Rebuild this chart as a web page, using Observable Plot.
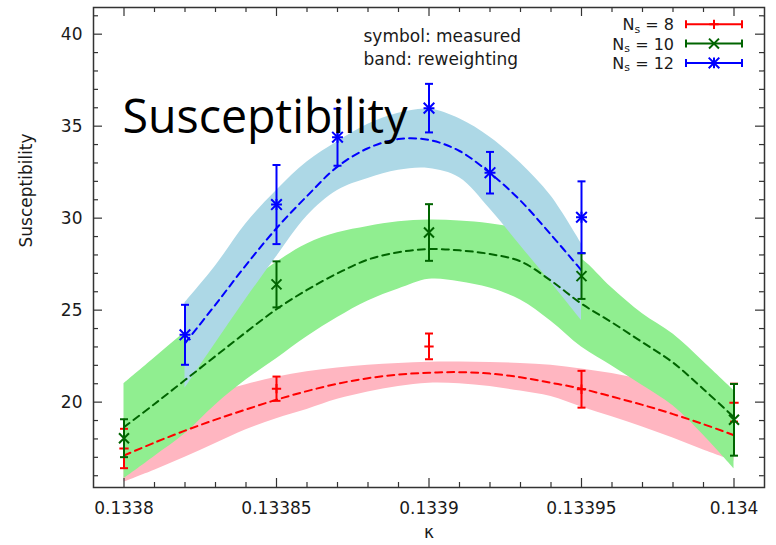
<!DOCTYPE html>
<html><head><meta charset="utf-8">
<script src="https://cdn.jsdelivr.net/npm/d3@7"></script>
<script src="https://cdn.jsdelivr.net/npm/@observablehq/plot@0.6"></script>
<style>body{margin:0;background:#fff}#chart svg{display:block}</style>
</head><body><div id="chart"></div>
<script>
// ---- data ----
const bandK = [0.1338,0.13381,0.13382,0.13383,0.13384,0.13385,0.13386,0.13387,0.13388,0.13389,0.1339,0.13391,0.13392,0.13393,0.13394,0.13395,0.13396,0.13397,0.13398,0.13399,0.134];
const redMid = [17.1,17.8,18.45,19.05,19.6,20.13,20.6,21.0,21.3,21.5,21.6,21.63,21.55,21.35,21.05,20.73,20.3,19.85,19.35,18.8,18.2];
const redHi  = [18.55,19.3,19.95,20.5,20.95,21.35,21.65,21.85,22.0,22.1,22.17,22.18,22.15,22.1,22.0,21.8,21.55,21.2,20.8,20.3,19.7];
const redLo  = [15.65,16.3,17.0,17.75,18.5,19.1,19.6,20.15,20.55,20.85,21.03,21.0,20.85,20.6,20.3,19.73,19.2,18.65,18.05,17.4,16.8];
const greenMid = [18.64,19.9,21.2,22.5,23.8,25.05,26.1,27.0,27.75,28.15,28.32,28.25,28.05,27.65,26.6,25.35,24.33,23.25,22.15,20.7,19.18];
const greenHi  = [21.0,22.4,23.8,25.1,26.4,27.6,28.6,29.2,29.55,29.8,29.9,29.85,29.7,29.4,28.7,27.8,26.2,24.8,23.7,22.2,20.63];
const greenLo  = [15.84,17.05,18.28,19.85,21.2,22.36,23.55,24.6,25.5,26.15,26.68,26.55,26.2,25.55,24.4,23.0,21.97,20.9,19.8,18.2,16.38];
const blueK   = [0.13382,0.13383,0.13384,0.13385,0.13386,0.13387,0.13388,0.13389,0.1339,0.13391,0.13392,0.13393,0.13394,0.13395];
const blueMid = [23.2,25.3,27.45,29.45,31.2,32.8,33.8,34.3,34.25,33.65,32.45,30.95,29.1,27.16];
const blueHi  = [25.4,27.4,29.7,31.5,33.05,34.15,35.1,35.7,35.93,35.4,34.4,33.0,31.2,28.6];
const blueLo  = [20.75,23.2,25.6,27.9,30.1,31.5,32.15,32.6,32.7,32.2,30.5,28.5,26.5,24.44];

const measK = [0.1338,0.13385,0.1339,0.13395,0.134];
const red8 = [17.48,20.73,23.03,20.70,19.97];
const red8Err = [1.07,0.66,0.70,1.00,1.03];
const green10 = [18.04,26.40,29.22,26.85,19.04];
const green10Err = [1.03,1.25,1.54,1.24,1.95];
const blueMeasK = [0.13382,0.13385,0.13387,0.1339,0.13392,0.13395];
const blue12 = [23.66,30.74,34.40,35.98,32.47,30.05];
const blue12Err = [1.63,2.15,1.55,1.32,1.13,1.95];

const xMajor = [0.1338,0.13385,0.1339,0.13395,0.134];
const xMinor = [0.13381,0.13382,0.13383,0.13384,0.13386,0.13387,0.13388,0.13389,0.13391,0.13392,0.13393,0.13394,0.13396,0.13397,0.13398,0.13399];
const yMajor = [20,25,30,35,40];
const yMinor = [16,17,18,19,21,22,23,24,26,27,28,29,31,32,33,34,36,37,38,39,41];
const legendN = ["8","10","12"];

// ---- build tables ----
const band = (K, mid, hi, lo) => K.map((k,i)=>({k, mid: mid[i], hi: hi[i], lo: lo[i]}));
const meas = (K, v, e) => K.map((k,i)=>({k, v: v[i], hi: v[i]+e[i], lo: v[i]-e[i]}));
const bRed = band(bandK, redMid, redHi, redLo);
const bGreen = band(bandK, greenMid, greenHi, greenLo);
const bBlue = band(blueK, blueMid, blueHi, blueLo);
const mRed = meas(measK, red8, red8Err);
const mGreen = meas(measK, green10, green10Err);
const mBlue = meas(blueMeasK, blue12, blue12Err);

const RED = "#ff0000", GREEN = "#006400", BLUE = "#0000ff";
const cap = {draw(ctx){ ctx.moveTo(-4,0); ctx.lineTo(4,0); }};
const W = 776, H = 545, ML = 93, MR = 12, MT = 7, MB = 58;
const FW = W-ML-MR, FH = H-MT-MB;
const axisC = "#333";

function errMarks(data, color, syms) {
  const out = [
    Plot.ruleX(data, {x:"k", y1:"lo", y2:"hi", stroke: color, strokeWidth: 2}),
    Plot.dot(data, {x:"k", y:"hi", symbol: cap, fill:"none", stroke: color, strokeWidth: 2}),
    Plot.dot(data, {x:"k", y:"lo", symbol: cap, fill:"none", stroke: color, strokeWidth: 2})
  ];
  for (const [s, r] of syms) out.push(Plot.dot(data, {x:"k", y:"v", symbol: s, r, fill:"none", stroke: color, strokeWidth: 2}));
  return out;
}

const chart = Plot.plot({
  width: W, height: H, marginLeft: ML, marginRight: MR, marginTop: MT, marginBottom: MB,
  style: {fontFamily: "DejaVu Sans", fontSize: "17px", background: "#fff", color: "#1a1a1a"},
  x: {domain: [0.13379, 0.13401]},
  y: {domain: [15.36, 41.45]},
  marks: [
    Plot.areaY(bRed, {x:"k", y1:"lo", y2:"hi", fill:"#ffb6c1", curve:"catmull-rom"}),
    Plot.areaY(bGreen, {x:"k", y1:"lo", y2:"hi", fill:"#90ee90", curve:"catmull-rom"}),
    Plot.areaY(bBlue, {x:"k", y1:"lo", y2:"hi", fill:"#add8e6", curve:"catmull-rom"}),
    Plot.line(bRed, {x:"k", y:"mid", stroke: RED, strokeWidth: 2, strokeDasharray:"7,5", curve:"catmull-rom"}),
    Plot.line(bGreen, {x:"k", y:"mid", stroke: GREEN, strokeWidth: 2, strokeDasharray:"7,5", curve:"catmull-rom"}),
    Plot.line(bBlue, {x:"k", y:"mid", stroke: BLUE, strokeWidth: 2, strokeDasharray:"7,5", curve:"catmull-rom"}),
    ...errMarks(mRed, RED, [["plus", 3.1]]),
    ...errMarks(mGreen, GREEN, [["times", 4.6]]),
    ...errMarks(mBlue, BLUE, [["plus", 3.6], ["times", 4.9]]),
    Plot.frame({stroke: axisC, strokeWidth: 1.5}),
    Plot.tickX(xMajor, {x: d=>d, insetTop: FH-9, stroke: axisC, strokeWidth: 1.2}),
    Plot.tickX(xMajor, {x: d=>d, insetBottom: FH-9, stroke: axisC, strokeWidth: 1.2}),
    Plot.tickX(xMinor, {x: d=>d, insetTop: FH-5, stroke: axisC, strokeWidth: 1.2}),
    Plot.tickX(xMinor, {x: d=>d, insetBottom: FH-5, stroke: axisC, strokeWidth: 1.2}),
    Plot.tickY(yMajor, {y: d=>d, insetRight: FW-9, stroke: axisC, strokeWidth: 1.2}),
    Plot.tickY(yMajor, {y: d=>d, insetLeft: FW-9, stroke: axisC, strokeWidth: 1.2}),
    Plot.tickY(yMinor, {y: d=>d, insetRight: FW-5, stroke: axisC, strokeWidth: 1.2}),
    Plot.tickY(yMinor, {y: d=>d, insetLeft: FW-5, stroke: axisC, strokeWidth: 1.2}),
    Plot.axisX({ticks: xMajor, tickSize: 0, tickPadding: 14, tickFormat: d3.format(".5~f"), label: null}),
    Plot.axisY({ticks: yMajor, tickSize: 0, tickPadding: 11, label: null}),
    Plot.text(["κ"], {text: d=>d, frameAnchor: "bottom", dy: 50}),
    Plot.text(["Susceptibility"], {text: d=>d, frameAnchor: "left", rotate: -90, dx: -67}),
    Plot.text(["symbol: measured\nband: reweighting"], {text: d=>d, frameAnchor: "top-left", textAnchor: "start", lineAnchor: "top", lineHeight: 1.35, dx: 270, dy: 18}),
    Plot.text(["Susceptibility"], {text: d=>d, frameAnchor: "top-left", textAnchor: "start", lineAnchor: "top", dx: 29, dy: 91, fontSize: 48, fontFamily: "Open Sans", fill: "#000"})
  ]
});
document.getElementById("chart").appendChild(chart);

// big title: fit width
for (const t of chart.querySelectorAll("text")) {
  const g = t.closest("g");
  if (t.textContent === "Susceptibility" && g && g.getAttribute("font-size") === "48") {
    t.setAttribute("textLength", 285);
    t.setAttribute("lengthAdjust", "spacingAndGlyphs");
  }
}

// legend (inside top-right of frame)
const svg = d3.select(chart);
const lg = svg.append("g").attr("font-family", "DejaVu Sans").attr("font-size", 16).attr("fill", "#1a1a1a");
const legendColors = [RED, GREEN, BLUE];
const legendSyms = [[["plus",3.1]], [["times",4.6]], [["plus",3.6],["times",4.9]]];
legendN.forEach((n, i) => {
  const cy = 24.3 + i*19.3;
  const t = lg.append("text").attr("x", 674).attr("y", cy + 6).attr("text-anchor", "end");
  t.append("tspan").text("N");
  t.append("tspan").attr("font-size", 11).attr("dy", 2.5).text("s");
  t.append("tspan").attr("dy", -2.5).text(" = " + n);
  const c = legendColors[i];
  const x1 = 686, x2 = 742, xm = 714;
  lg.append("line").attr("x1", x1).attr("x2", x2).attr("y1", cy).attr("y2", cy).attr("stroke", c).attr("stroke-width", 2);
  for (const x of [x1, x2]) lg.append("line").attr("x1", x).attr("x2", x).attr("y1", cy-4).attr("y2", cy+4).attr("stroke", c).attr("stroke-width", 2);
  for (const [s, r] of legendSyms[i]) {
    const type = s === "plus" ? d3.symbolPlus : d3.symbolTimes;
    lg.append("path").attr("d", d3.symbol(type, r*r*Math.PI)()).attr("transform", `translate(${xm},${cy})`)
      .attr("fill", "none").attr("stroke", c).attr("stroke-width", 2);
  }
});
</script>
</body></html>
